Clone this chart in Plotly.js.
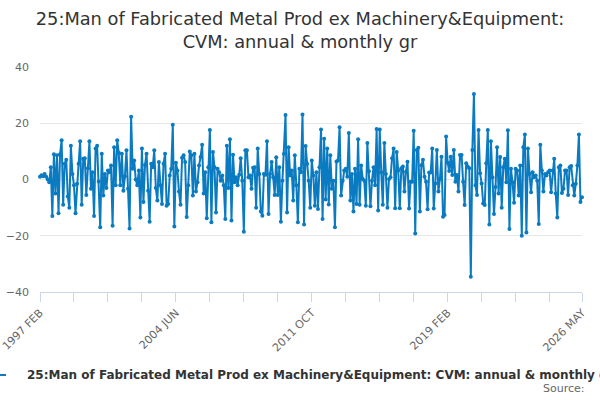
<!DOCTYPE html>
<html>
<head>
<meta charset="utf-8">
<script src="https://cdn.plot.ly/plotly-3.0.1.min.js"></script>
<style>
  html, body { margin: 0; padding: 0; background: #fff; }
  #chart { width: 600px; height: 400px; }
</style>
</head>
<body>
<div id="chart"></div>
<script>
var series_name = '25:Man of Fabricated Metal Prod ex Machinery&Equipment: CVM: annual & monthly gr';
var month_names = ['JAN', 'FEB', 'MAR', 'APR', 'MAY', 'JUN', 'JUL', 'AUG', 'SEP', 'OCT', 'NOV', 'DEC'];
var start_year = 1997;
var start_month = 1; // FEB

// monthly growth, %
var values_1997 = [1, 1.5, 1.2, 2, 1, 0, -1, 4.4, -13, 9, -5, 8.6, -12, 9, 14, -9, 5.6, 7, -6, -10,
    12, 2, -2, -12, -1.5, 5.6, 13.6, -9, 7.4, 7.6, -5.5, 4, 13.6, -3.3, 2.6, -13, 11, 12, -0.7, -17,
    9.2, -5.7, 2, -3, 3.2, 2.6, 5, -16.4, 11.5, -2, 14, 9.5, -2, 9.2, -4, 1.2, 10.4, -3.3];
var values_2001 = [-17.4, 22.3, 3.8, 6.8, 0, -2, 3.2, -13.5, 11, -8, 5.2, 9.2, -4, -15, 5.6, 4.4, 10.4, -3, -7.5, 6.2,
    -2, -8.7, 5.6, 9.2, -9.3, -8.7, 1.4, 3.8, 19.5, -16.7, 6, 3.2, -4.3, -9, 7.7, 8.6, 6.2, -13.3, -2, 10,
    8.6, -5.7, 9.2, -4.3, -1, 5, 8, 12.4, -5, 2.6, -13.8, 4.4, 17.6, -15.2, 9.8, 4.4, -11.7];
var values_2006 = [3.8, 2.6, -0.4, 1.4, -2, -14, 12, -3, 14.3, -14.6, 8.8, -1, 0.8, -2, 1.7, 7.6, -0.4, -18.6, 10.4, 10.4,
    0.8, 1.4, -3.3, 4.2, 4.4, -10, 11, 2, -11.4, -12.9, 2, 1.7, 13.6, -12.3, 2, 6.2, 0.8, -5.5, 7.9, -5.5,
    4.4, -15, -0.4, 9.2, 22.9, -11.7, 11.5, 1.4, 3.2, -7.5, 8.6, -2, -15.2, 3.8, 2.6, 23.1, -16, 11.9, 5.6, -0.4];
var values_2011 = [-10, 6.8, 1.4, -9.3, 2.6, -10.5, 4.4, 17.8, -14, 14.5, -7.1, 11, -8.9, 8.6, -3.3, -0.4, -17, 6.4, 6.8, 18.6,
    -5.7, -0.4, 3.2, 3.8, 1, 16.5, -7.5, 2, -11.4, 3.8, -8.7, 14.3, -9, 5, 0.2, -0.4, -9.3, 13, 2.9, -9.5,
    -0.4, 4.4, -2, 18, -11, 17.8, 2.6, -9, 13, 2, -10, 0.2, 0.8, 7.6, 11, -10.2, 9.8, 3.2, -10.2];
var values_2016 = [4, 4.6, -4.3, 2.8, 6.3, -10.3, -0.8, -0.8, 17.3, -19.2, 10.5, 11.3, -11.4, 5.1, 7, 1, -0.8, -10.6, 2.5, 2.5,
    11, -10.3, -1.4, 10.5, -4.3, 0.2, 8.1, -13.2, -12.6, 15.3, 6, 3, 8.1, 1.6, 10.5, -0.8, 1.6, -4.3, 8.7, 8.7,
    -0.8, -9.1, 5.8, 4.6, 4, -34.6, 10.5, 30.4, -2, -5.5, 17.6, 2.2, -1.4, -8.5, -9.1, 5.8, 17.6, -16];
var values_2021 = [13.6, 0.8, -12.3, -2.7, 11.5, -5, 8, -10, 4.4, 7.4, -1, 17.5, -17.6, 3.8, -1, -8.3, 3.8, 3.2, -5.7, 5,
    -20, 11.5, 16, -18.8, 11, 2, -4.5, 2.6, 0.8, 1.4, -0.4, -15.8, 12.4, 3.2, -4.3, 2, 1.4, 2.6, 3.2, -4.5,
    3.2, 7.4, -5, -13.5, 4.4, 5, -4.8, -3.3, 3.2, 3.2, -5.5, 4.4, 4.8, -2, -5.7, -1.5, 5, 16, -8, -6.3];

var y_values = [].concat(values_1997, values_2001, values_2006, values_2011, values_2016, values_2021);

var x_labels = [];
for (var i = 0; i < y_values.length; i++) {
    var m = start_month + i;
    x_labels.push((start_year + Math.floor(m / 12)) + ' ' + month_names[m % 12]);
}

// a tick every 22 months, a label on every 4th one, plus the last month
var tick_vals = [];
var tick_text = [];
for (var t = 0; t < x_labels.length; t += 22) {
    tick_vals.push(x_labels[t]);
    tick_text.push(t % 88 == 0 ? x_labels[t] : '');
}
tick_vals.push(x_labels[x_labels.length - 1]);
tick_text.push(x_labels[x_labels.length - 1]);

var line_blue = '#0a7bc1';

function on_start(){
    var chart = document.getElementById('chart');

    var data = [{
        x: x_labels,
        y: y_values,
        name: series_name,
        type: 'scatter',
        mode: 'lines+markers',
        line: {color: line_blue, width: 2},
        marker: {color: line_blue, size: 4},
        cliponaxis: false
    }];

    // the legend row runs past both edges of the picture, so it is drawn
    // by hand: a short line for the key and the series name next to it
    var legend_y = -0.369;

    var layout = {
        width: 600,
        height: 400,
        font: {family: 'DejaVu Sans, sans-serif', color: '#666666'},
        paper_bgcolor: '#ffffff',
        plot_bgcolor: '#ffffff',
        margin: {l: 40, r: 18, t: 67, b: 108},
        showlegend: false,
        title: {
            text: '25:Man of Fabricated Metal Prod ex Machinery&Equipment:<br>CVM: annual & monthly gr',
            font: {family: 'DejaVu Sans, sans-serif', size: 17.8, color: '#333333'},
            x: 0.5,
            xanchor: 'center',
            y: 0.9375,
            yanchor: 'top'
        },
        xaxis: {
            type: 'category',
            range: [0, x_labels.length - 1],
            automargin: false,
            tickmode: 'array',
            tickvals: tick_vals,
            ticktext: tick_text,
            tickangle: -45,
            ticks: 'outside',
            ticklen: 9,
            tickcolor: '#ccd6eb',
            showline: true,
            linecolor: '#ccd6eb',
            linewidth: 1,
            showgrid: false,
            tickfont: {size: 11, color: '#666666'}
        },
        yaxis: {
            range: [-40, 40],
            dtick: 20,
            automargin: false,
            showgrid: true,
            gridcolor: '#e6e6e6',
            zeroline: false,
            showline: false,
            ticks: '',
            ticklabelstandoff: 10,
            tickfont: {size: 11, color: '#666666'}
        },
        shapes: [{
            type: 'line',
            xref: 'paper',
            yref: 'paper',
            x0: -52 / 542,
            x1: -34 / 542,
            y0: legend_y,
            y1: legend_y,
            line: {color: line_blue, width: 2}
        }],
        annotations: [{
            text: '<b>' + series_name + '</b>',
            xref: 'paper',
            yref: 'paper',
            x: -15 / 542,
            xanchor: 'left',
            y: legend_y,
            yanchor: 'middle',
            showarrow: false,
            font: {family: 'DejaVu Sans, sans-serif', size: 12, color: '#333333'}
        }, {
            text: 'Source:',
            xref: 'paper',
            yref: 'paper',
            x: 1.01,
            xanchor: 'right',
            y: -0.43,
            yanchor: 'middle',
            showarrow: false,
            font: {size: 11, color: '#666666'}
        }]
    };

    Plotly.newPlot(chart, data, layout, {displayModeBar: false, staticPlot: true});
}

on_start();
</script>
</body>
</html>
